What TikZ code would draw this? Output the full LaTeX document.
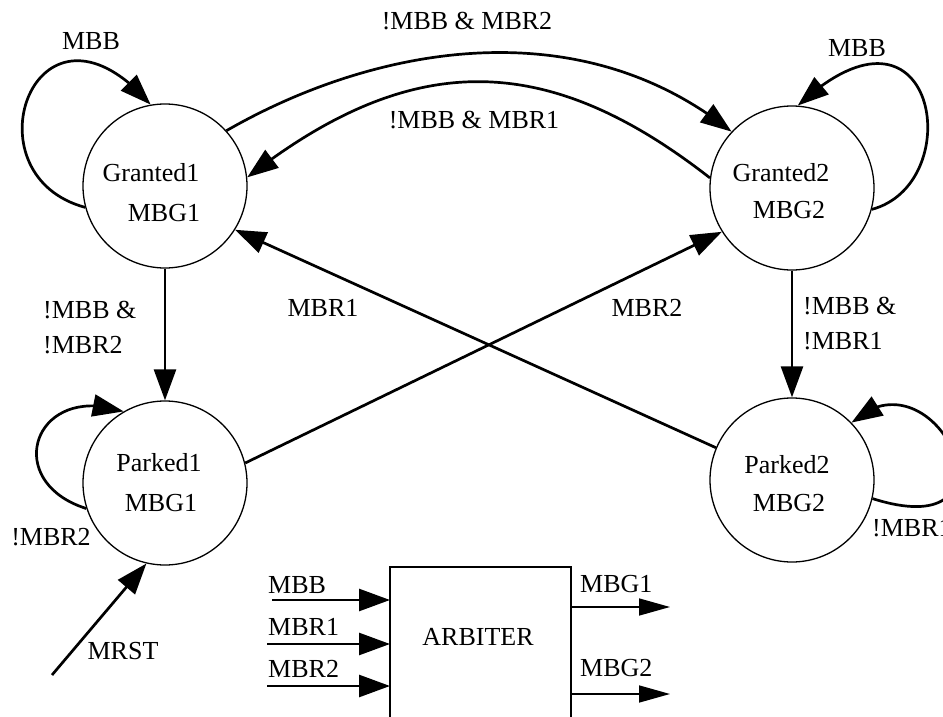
\documentclass[tikz,border=0pt]{standalone}
\usepackage{fontspec}
\setmainfont{Liberation Serif}
\usetikzlibrary{arrows.meta,bending,calc}
\begin{document}
\begin{tikzpicture}[x=1pt,y=-1pt,
  stcirc/.style={draw, circle, minimum size=164pt, inner sep=0pt, line width=1.3pt},
  lbl/.style={inner sep=0pt, font=\fontsize{26}{35}\selectfont},
  trans/.style={line width=2.7pt, -{Triangle[length=31pt,width=22pt]}},
  thinsig/.style={line width=1.6pt, -{Triangle[length=31pt,width=17pt]}},
  blockbox/.style={draw, line width=2.7pt, minimum width=181pt, minimum height=160pt, inner sep=0pt, outer sep=0pt}
]
\useasboundingbox (0,0) rectangle (943,717);
\clip (0,0) rectangle (943,717);
\fill[white] (0,0) rectangle (943,717);

% states
\node[stcirc] (g1) at (165,186) {};
\node[stcirc] (g2) at (792,188) {};
\node[stcirc] (p1) at (165,483) {};
\node[stcirc] (p2) at (792,480) {};

\node[lbl] (g1a) at (151,173) {Granted1};
\node[lbl] (g1b) at (164,213) {MBG1};
\node[lbl] (g2a) at (781,173) {Granted2};
\node[lbl] (g2b) at (789,210) {MBG2};
\node[lbl] (p1a) at (159,463) {Parked1};
\node[lbl] (p1b) at (161,503) {MBG1};
\node[lbl] (p2a) at (787,465) {Parked2};
\node[lbl] (p2b) at (789,503) {MBG2};

% transitions between the granted states
\draw[trans] (g1.42) .. controls +(146,-84) and +(-154,-124) .. (g2.137);
\draw[trans] (g2.173) .. controls +(-164,-128) and +(164,-128) .. (g1.6);

% granted -> parked
\draw[trans] (g1) -- (p1);
\draw[trans] (g2) -- (p2);

% crossing transitions
\draw[trans] (p1.14) -- (g2.-148);
\draw[trans] (p2.157) -- (g1.-32);

% self loops
\draw[trans] (g1.195) .. controls +(-122,-33) and +(-114,-131) .. (g1.100);
\draw[trans] (g2.345) .. controls +(97,-26) and +(139,-129) .. (g2.86);
\draw[trans] (p1.198) .. controls +(-86,-27) and +(-90,-30) .. (p1.120);
\draw[trans] (p2.347) .. controls +(157,50) and +(84,-78) .. (p2.44);

% reset
\coordinate (rst) at (52,675);
\draw[trans] (rst) -- (p1.-103);

% transition labels
\node[lbl] (l1) at (91,41) {MBB};
\node[lbl] (l2) at (857,48) {MBB};
\node[lbl] (l3) at (467,21) {!MBB \& MBR2};
\node[lbl] (l4) at (474,120) {!MBB \& MBR1};
\node[lbl, align=left, anchor=west] (l5) at (43,327.5) {!MBB \&\\!MBR2};
\node[lbl, align=left, anchor=west] (l6) at (803,323.5) {!MBB \&\\!MBR1};
\node[lbl] (l7) at (323,308) {MBR1};
\node[lbl] (l8) at (647,308) {MBR2};
\node[lbl] (l9) at (51,537) {!MBR2};
\node[lbl, anchor=west] (l10) at (872,528) {!MBR1};
\node[lbl] (l11) at (123,651) {MRST};

% arbiter block
\node[blockbox, anchor=north west] (arb) at (390,567) {};
\node[lbl] (arbtext) at (478,637) {ARBITER};

\coordinate (inb) at (272,600);
\coordinate (inr1) at (267,644);
\coordinate (inr2) at (267,686);
\draw[trans] (inb) -- (inb -| arb.west);
\draw[trans] (inr1) -- (inr1 -| arb.west);
\draw[trans] (inr2) -- (inr2 -| arb.west);
\node[lbl, anchor=west] (ib) at (268,585) {MBB};
\node[lbl, anchor=west] (ir1) at (268,627) {MBR1};
\node[lbl, anchor=west] (ir2) at (268,669) {MBR2};

\coordinate (og1) at (670,607);
\coordinate (og2) at (670,694);
\draw[thinsig] (og1 -| arb.east) -- (og1);
\draw[thinsig] (og2 -| arb.east) -- (og2);
\node[lbl, anchor=west] (ob1) at (580,584) {MBG1};
\node[lbl, anchor=west] (ob2) at (580,668) {MBG2};
\end{tikzpicture}
\end{document}
